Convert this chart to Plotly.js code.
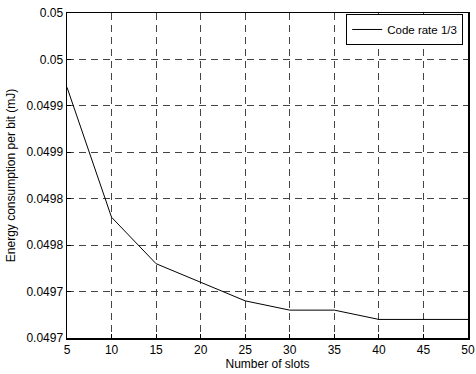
<!DOCTYPE html>
<html>
<head>
<meta charset="utf-8">
<script src="https://cdn.plot.ly/plotly-3.0.1.min.js"></script>
<style>html,body{margin:0;padding:0;background:#fff;}#chart{width:476px;height:374px;}</style>
</head>
<body>
<div id="chart"></div>
<script>
const slots = [5, 10, 15, 20, 25, 30, 35, 40, 45, 50];
const energy = [0.04997, 0.04983, 0.04978, 0.04976, 0.04974, 0.04973, 0.04973, 0.04972, 0.04972, 0.04972];
const seriesName = "Code rate 1/3";
const xTicks = [5, 10, 15, 20, 25, 30, 35, 40, 45, 50];
const yTickVals = [0.0497, 0.04975, 0.0498, 0.04985, 0.0499, 0.04995, 0.05, 0.05005];
const yTickText = ["0.0497", "0.0497", "0.0498", "0.0498", "0.0499", "0.0499", "0.05", "0.05"];

const font = {family: "Liberation Sans, Arial, sans-serif", size: 12, color: "#000"};
const legFont = {family: "Liberation Sans, Arial, sans-serif", size: 11.5, color: "#000"};
const trace = {
  x: slots, y: energy, type: "scatter", mode: "lines", name: seriesName,
  line: {color: "#000", width: 1}
};
const layout = {
  width: 476, height: 374,
  margin: {l: 67, r: 8, t: 13, b: 36},
  paper_bgcolor: "#fff", plot_bgcolor: "#fff",
  font: font,
  showlegend: true,
  legend: {x: 0.988, y: 0.997, xanchor: "right", yanchor: "top", bgcolor: "#fff",
           bordercolor: "#000", borderwidth: 1, font: legFont, itemwidth: 30},
  xaxis: {
    range: [5, 50], tickvals: xTicks, ticktext: xTicks.map(String),
    showgrid: true, gridcolor: "#444", griddash: "7px,5px", gridwidth: 1,
    showline: true, linecolor: "#000", linewidth: 1.5, mirror: true,
    ticks: "inside", ticklen: 4, tickcolor: "#000", zeroline: false,
    title: {text: "Number of slots", font: font, standoff: 3}
  },
  yaxis: {
    range: [0.0497, 0.05005], tickvals: yTickVals, ticktext: yTickText,
    showgrid: true, gridcolor: "#444", griddash: "7px,5px", gridwidth: 1,
    showline: true, linecolor: "#000", linewidth: 1.5, mirror: true,
    ticks: "inside", ticklen: 4, tickcolor: "#000", zeroline: false,
    title: {text: "Energy consumption per bit (mJ)", font: font, standoff: 8}
  }
};
Plotly.newPlot("chart", [trace], layout, {displayModeBar: false, staticPlot: true});
</script>
</body>
</html>
